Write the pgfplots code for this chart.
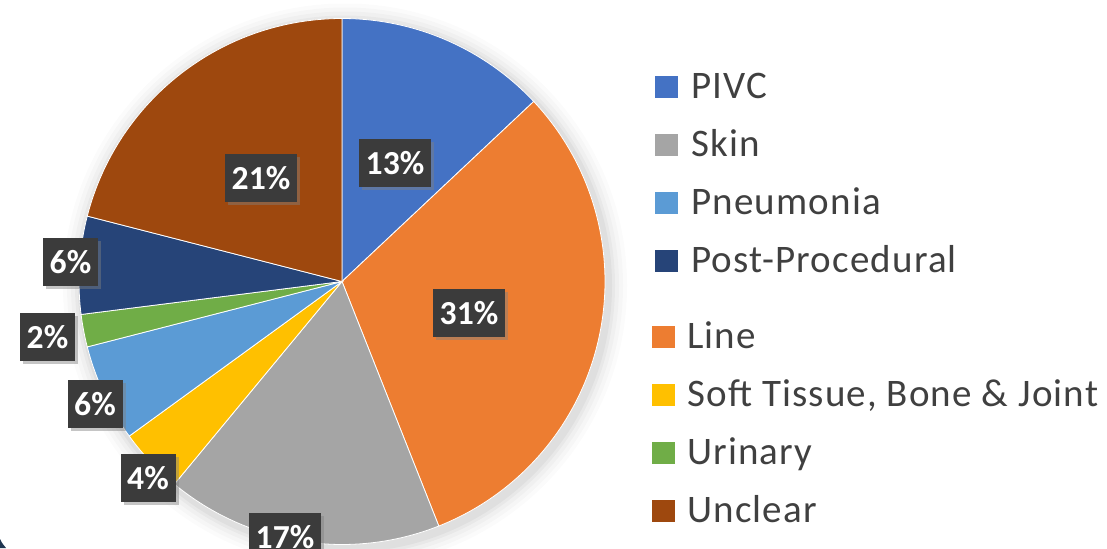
\documentclass[border=0pt]{standalone}
\usepackage{pgfplots}
\pgfplotsset{compat=1.18}
\usepackage{pgfplotstable}
\usepackage{fontspec}
\setmainfont{Carlito}
\newfontfamily\legfont[LetterSpace=2.9]{Carlito}
\usetikzlibrary{shadows}
\definecolor{col0}{HTML}{4472C4}
\definecolor{col1}{HTML}{ED7D31}
\definecolor{col2}{HTML}{A5A5A5}
\definecolor{col3}{HTML}{FFC000}
\definecolor{col4}{HTML}{5B9BD5}
\definecolor{col5}{HTML}{70AD47}
\definecolor{col6}{HTML}{264478}
\definecolor{col7}{HTML}{9E480E}
\definecolor{lblbg}{HTML}{3B3B3B}
\definecolor{legtext}{HTML}{404040}
\definecolor{navy}{HTML}{1F3550}
\pgfplotstableread{
label value lx ly w
PIVC 13 395 163 36
Line 31 469 313 36
Skin 17 285 537 36
SoftTissue 4 148 478 27.5
Pneumonia 6 95 404 27.5
Urinary 2 47.5 337 27.5
PostProcedural 6 70.5 262 27.5
Unclear 21 261 178 36
}\piedata
\newcommand\cx{342}
\newcommand\cy{266.5}
\newcommand\R{263}
\newcommand\legentry[5]{%
  \fill[#1] (axis cs:#2,{548-#4-11}) rectangle (axis cs:{#2+22.5},{548-#4+11});
  \node[anchor=base west, inner sep=0pt, text=legtext,
        font=\legfont\fontsize{19.5pt}{23pt}\selectfont]
    at (axis cs:#3,{548-#4-11}) {#5};
}
\newcommand\shadowring[2]{%
  \fill[black, opacity=#2] (axis cs:345,262.5) circle[radius=#1pt];
}
\begin{document}
\begin{tikzpicture}
\gdef\cum{0}
\foreach \i in {0,...,7}{%
  \pgfplotstablegetelem{\i}{value}\of\piedata
  \let\v\pgfplotsretval
  \pgfmathsetmacro\s{90-3.6*\cum}%
  \pgfmathsetmacro\e{90-3.6*(\cum+\v)}%
  \pgfmathsetmacro\nc{\cum+\v}%
  \expandafter\xdef\csname sA\i\endcsname{\s}%
  \expandafter\xdef\csname eA\i\endcsname{\e}%
  \expandafter\xdef\csname val\i\endcsname{\v}%
  \pgfplotstablegetelem{\i}{lx}\of\piedata
  \expandafter\xdef\csname lx\i\endcsname{\pgfplotsretval}%
  \pgfplotstablegetelem{\i}{ly}\of\piedata
  \pgfmathsetmacro\yy{548-\pgfplotsretval}%
  \expandafter\xdef\csname ly\i\endcsname{\yy}%
  \pgfplotstablegetelem{\i}{w}\of\piedata
  \expandafter\xdef\csname w\i\endcsname{\pgfplotsretval}%
  \xdef\cum{\nc}%
}
\begin{axis}[x=0.5pt, y=0.5pt, xmin=0, xmax=1107, ymin=0, ymax=548,
  hide axis, clip=true]
\fill[white] (axis cs:0,0) rectangle (axis cs:1107,548);
% navy corner of slide background
\fill[navy] (axis cs:0,0) -- (axis cs:0,9) .. controls (axis cs:2,5) .. (axis cs:6,0) -- cycle;
% soft shadow
\shadowring{141}{0.015}
\shadowring{139}{0.02}
\shadowring{137}{0.025}
\shadowring{135}{0.03}
\shadowring{133.5}{0.035}
\pgfplotsinvokeforeach{0,...,7}{
  \fill[col#1, draw=white, line width=0.4pt]
    (axis cs:\cx,\cy) -- (axis cs:{\cx+\R*cos(\csname sA#1\endcsname)},{\cy+\R*sin(\csname sA#1\endcsname)})
    arc[start angle=\csname sA#1\endcsname, end angle=\csname eA#1\endcsname, radius=131.5pt] -- cycle;
}
\pgfplotsinvokeforeach{0,...,7}{
  \node[fill=lblbg, text=white, inner sep=0pt, minimum height=24pt,
        minimum width=\csname w#1\endcsname pt,
        drop shadow={opacity=0.45, shadow xshift=1.5pt, shadow yshift=-1.5pt},
        font=\bfseries\fontsize{16.8pt}{20pt}\selectfont]
    at (axis cs:\csname lx#1\endcsname,\csname ly#1\endcsname) {\csname val#1\endcsname\%};
}
% legend
\legentry{col0}{655}{691}{87}{PIVC}
\legentry{col2}{655}{691}{145}{Skin}
\legentry{col4}{655}{691}{203}{Pneumonia}
\legentry{col6}{655}{691}{261}{Post-Procedural}
\legentry{col1}{652}{687}{337}{Line}
\legentry{col3}{652}{687}{395}{Soft Tissue, Bone \& Joint}
\legentry{col5}{652}{687}{453}{Urinary}
\legentry{col7}{652}{687}{511}{Unclear}
\end{axis}
\end{tikzpicture}
\end{document}
